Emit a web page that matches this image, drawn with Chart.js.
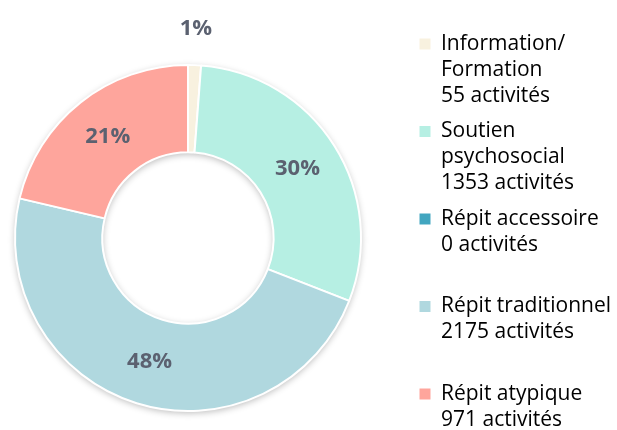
<!DOCTYPE html>
<html>
<head>
<meta charset="utf-8">
<script src="https://cdn.jsdelivr.net/npm/chart.js@4.4.1/dist/chart.umd.min.js"></script>
<style>
  html, body { margin: 0; padding: 0; background: #fff; }
</style>
</head>
<body>
<canvas id="chart" width="617" height="430"></canvas>
<script>
const categories = [['Information/', 'Formation'], ['Soutien', 'psychosocial'], ['Répit accessoire'], ['Répit traditionnel'], ['Répit atypique']];
const activityCounts = [55, 1353, 0, 2175, 971];
const sliceColors = ['#f8f1df', '#b6efe3', '#42a6c0', '#b0d8df', '#fea59c'];
const unitLabel = 'activités';

const FONT = '"Open Sans", "DejaVu Sans", sans-serif';

// fixed plot box for the ring and legend position (the legend sits next to it)
const plotBox = { left: 14, top: 64, right: 362, bottom: 412 };
const legendLeft = 410;
const legendShiftY = 24;

const placeBoxes = {
  id: 'placeBoxes',
  afterLayout(chart) {
    chart.chartArea = {
      left: plotBox.left,
      top: plotBox.top,
      right: plotBox.right,
      bottom: plotBox.bottom,
      width: plotBox.right - plotBox.left,
      height: plotBox.bottom - plotBox.top,
    };
    const lg = chart.legend;
    const dx = legendLeft - lg.left;
    lg.left += dx;
    lg.right += dx;
    lg.top += legendShiftY;
    lg.bottom += legendShiftY;
  }
};

const ringShadow = {
  id: 'ringShadow',
  beforeDatasetsDraw(chart) {
    const arc = chart.getDatasetMeta(0).data[0];
    if (!arc) return;
    const { x, y, outerRadius, innerRadius } = arc.getProps(['x', 'y', 'outerRadius', 'innerRadius'], true);
    const ctx = chart.ctx;
    ctx.save();
    ctx.shadowColor = 'rgba(0, 0, 0, 0.28)';
    ctx.shadowBlur = 7;
    ctx.shadowOffsetY = 2;
    ctx.fillStyle = '#fff';
    ctx.beginPath();
    ctx.arc(x, y, outerRadius, 0, Math.PI * 2);
    ctx.arc(x, y, innerRadius, 0, Math.PI * 2, true);
    ctx.fill();
    ctx.restore();
  }
};

const pctLabels = {
  id: 'pctLabels',
  afterDatasetsDraw(chart) {
    const meta = chart.getDatasetMeta(0);
    const total = activityCounts.reduce((sum, v) => sum + v, 0);
    const ctx = chart.ctx;
    ctx.save();
    ctx.font = 'bold 22px ' + FONT;
    ctx.fillStyle = '#5b6170';
    ctx.textAlign = 'center';
    ctx.textBaseline = 'middle';
    meta.data.forEach((arc, i) => {
      const v = activityCounts[i];
      if (!v) return;
      const pct = Math.round(v / total * 100);
      const p = arc.getProps(['x', 'y', 'startAngle', 'endAngle', 'innerRadius', 'outerRadius'], true);
      const mid = (p.startAngle + p.endAngle) / 2;
      const r = pct < 5 ? p.outerRadius + 36 : (p.innerRadius + p.outerRadius) / 2;
      ctx.fillText(pct + '%', p.x + Math.cos(mid) * r, p.y + Math.sin(mid) * r);
    });
    ctx.restore();
  }
};

new Chart(document.getElementById('chart'), {
  type: 'doughnut',
  data: {
    labels: categories.map((lines) => lines.join(' ')),
    datasets: [{
      data: activityCounts,
      backgroundColor: sliceColors,
      borderColor: '#fff',
      borderWidth: 2,
    }],
  },
  options: {
    responsive: false,
    animation: false,
    events: [],
    cutout: '49.5%',
    layout: { padding: 0 },
    plugins: {
      tooltip: { enabled: false },
      legend: {
        position: 'right',
        align: 'start',
        labels: {
          boxWidth: 11,
          boxHeight: 11,
          padding: 9.5,
          color: '#222',
          font: { family: FONT, size: 21, lineHeight: 26 / 21 },
          generateLabels() {
            return categories.map((lines, i) => {
              const text = [...lines, `${activityCounts[i]} ${unitLabel}`];
              if (i < categories.length - 1) {
                while (text.length < 3) text.push('');
              }
              return {
                text,
                fillStyle: sliceColors[i],
                strokeStyle: sliceColors[i],
                lineWidth: 0,
                hidden: false,
                index: i,
              };
            });
          }
        }
      }
    }
  },
  plugins: [placeBoxes, ringShadow, pctLabels],
});
</script>
</body>
</html>
